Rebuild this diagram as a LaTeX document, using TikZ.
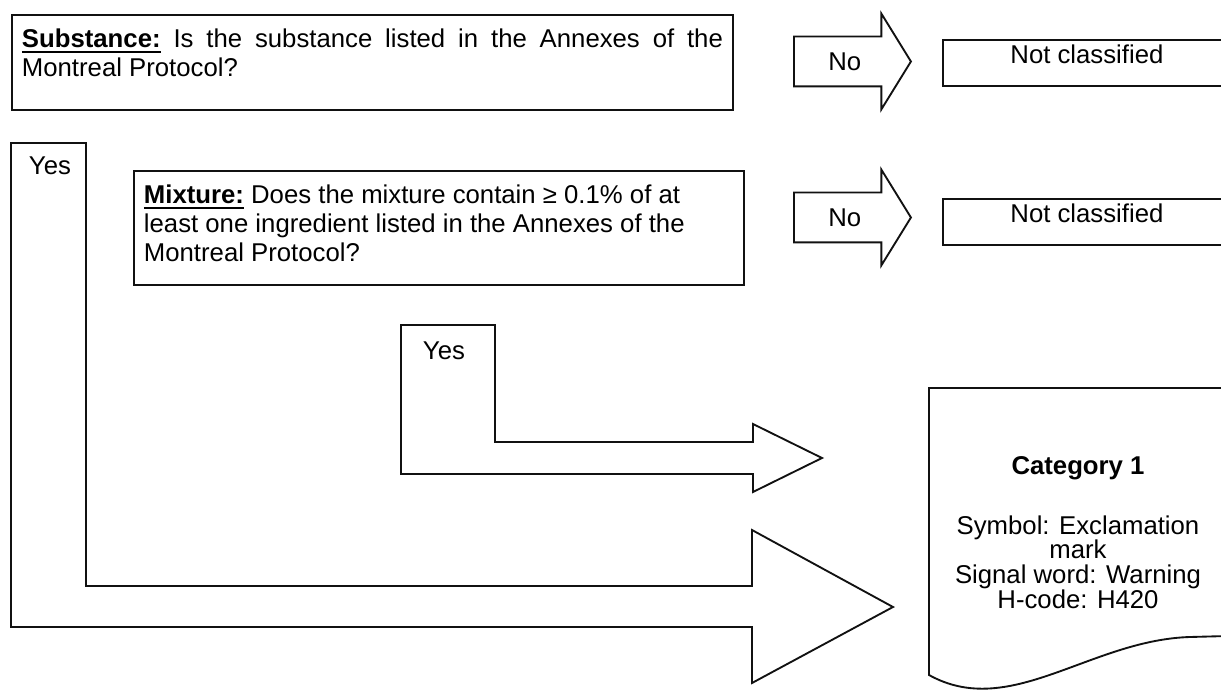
\documentclass[tikz,border=0pt]{standalone}
\usepackage{fontspec}
\setmainfont{Liberation Sans}
\usepackage{tikz}
\usetikzlibrary{shapes.arrows, positioning}
\definecolor{Ink}{HTML}{111111}
\newcommand{\ulword}[1]{\setbox0=\hbox{\bfseries #1}\rlap{\rule[-3.8pt]{\wd0}{1.6pt}}\box0\relax}

\begin{document}
\begin{tikzpicture}[x=0.75pt, y=-0.75pt, line width=1.4pt, draw=Ink,
    font=\fontsize{19.3}{21.5}\selectfont,
    qbox/.style={draw=Ink, anchor=north west, inner xsep=7.5pt, inner ysep=0pt},
    nobox/.style={draw=Ink, anchor=north west, minimum width=216pt, inner ysep=0pt,
                  text height=18pt, text depth=16.5pt},
    noarrow/.style={draw=Ink, single arrow, anchor=tail, inner xsep=0pt, inner ysep=11.1pt,
                    text height=13.8pt, text depth=0pt,
                    minimum height=87.75pt, minimum width=70.5pt,
                    single arrow head extend=17.25pt, single arrow tip angle=116.6},
    yesarrow/.style={draw=Ink, line join=miter},
    yestext/.style={anchor=base west, inner sep=0pt},
    cattext/.style={anchor=north, align=center, inner sep=0pt,
                    font=\fontsize{19.3}{18.5}\selectfont}]
  \useasboundingbox (0,0) rectangle (1221,691);
  \clip (0,0) rectangle (1221,691);
  % Questions
  \node[qbox] (sub) at (11,14) {\parbox[t][71.25pt][t]{525.75pt}{\rule{0pt}{24.75pt}\ulword{Substance:} Is the substance listed in the Annexes of the\linebreak Montreal Protocol?}};
  \node[qbox] (mix) at (133,170) {\parbox[t][85.5pt][t]{442.5pt}{\raggedright\rule{0pt}{24.75pt}\ulword{Mixture:} Does the mixture contain ≥ 0.1\% of at\\ least one ingredient listed in the Annexes of the\\ Montreal Protocol?}};
  % No branches
  \node[noarrow] (no1) at (793,61.5)  {No};
  \node[noarrow] (no2) at (793,217.5) {No};
  \node[nobox]   (nc1) at (942,39)    {Not classified};
  \node[nobox]   (nc2) at (942,198)   {Not classified};
  % Yes branches
  \draw[yesarrow] (11,143) -- (86,143) -- (86,586) -- (752,586) -- (752,530)
    -- (893,607) -- (752,683) -- (752,627) -- (11,627) -- cycle;
  \draw[yesarrow] (401,325) -- (495,325) -- (495,442) -- (753,442) -- (753,424)
    -- (822,458) -- (753,492) -- (753,474) -- (401,474) -- cycle;
  \node[yestext] (yes1) at (28,175)  {Yes};
  \node[yestext] (yes2) at (422,360) {Yes};
  % Result
  \draw[yesarrow] (929,388) -- (1228,388) -- (1228,636) -- (1190,637)
    .. controls (1090,640) and (1010,720) .. (929,675) -- cycle;
  \node[cattext] (cat) at (1078,456) {\textbf{Category 1}\\[26pt]
    Symbol: Exclamation\\ mark\\ Signal word: Warning\\ H-code: H420};
\end{tikzpicture}
\end{document}
